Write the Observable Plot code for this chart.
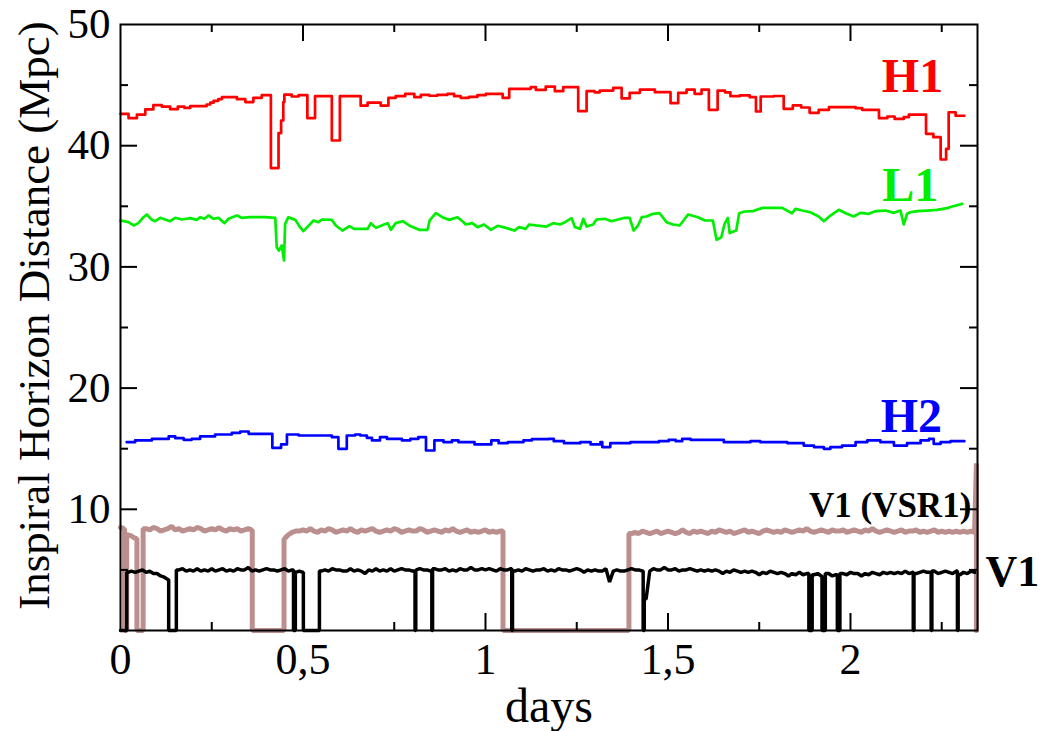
<!DOCTYPE html>
<html><head><meta charset="utf-8">
<script src="https://cdn.jsdelivr.net/npm/d3@7"></script>
<script src="https://cdn.jsdelivr.net/npm/@observablehq/plot@0.6"></script>
<style>body{margin:0;background:#fff}</style>
</head><body><div id="chart"></div>
<script>
// H1 (step-after): [day, Mpc]
const h1 = [[0.000,42.63],[0.022,42.27],[0.045,42.57],[0.068,42.99],[0.090,43.34],[0.113,43.23],[0.136,43.01],[0.157,43.23],[0.175,43.12],[0.191,43.26],
[0.236,43.40],[0.246,43.55],[0.255,43.70],[0.268,43.85],[0.278,44.00],[0.319,43.84],[0.342,43.60],[0.364,43.95],[0.387,44.17],[0.412,38.15],
[0.433,41.03],[0.440,42.08],[0.446,43.60],[0.449,44.22],[0.469,44.06],[0.488,44.17],[0.512,42.27],[0.533,44.09],[0.579,40.43],[0.601,44.09],
[0.658,43.30],[0.677,43.56],[0.713,43.30],[0.734,43.95],[0.754,44.09],[0.780,44.28],[0.805,44.00],[0.823,44.20],[0.846,44.12],[0.868,44.20],
[0.896,44.28],[0.914,44.09],[0.932,43.95],[0.955,44.03],[0.978,44.17],[1.001,44.28],[1.047,43.95],[1.065,44.69],[1.124,44.83],[1.138,44.60],
[1.165,44.88],[1.190,44.50],[1.213,44.83],[1.254,42.85],[1.277,44.50],[1.299,44.40],[1.313,44.55],[1.350,44.77],[1.373,43.90],[1.395,44.36],
[1.423,44.63],[1.464,44.42],[1.507,43.51],[1.528,44.36],[1.551,44.63],[1.573,44.28],[1.592,44.63],[1.612,42.96],[1.636,44.55],[1.656,44.40],
[1.671,44.09],[1.697,44.15],[1.724,44.00],[1.741,42.82],[1.754,44.06],[1.790,44.10],[1.817,43.04],[1.842,43.32],[1.865,43.15],[1.888,42.71],
[1.913,42.96],[1.941,43.18],[2.014,43.10],[2.032,42.96],[2.078,42.27],[2.101,42.41],[2.121,42.21],[2.146,42.35],[2.160,42.57],[2.207,40.98],
[2.227,40.70],[2.247,38.86],[2.262,39.74],[2.269,42.76],[2.288,42.47],[2.312,42.47]];

// L1: [day, Mpc]
const l1 = [[0.000,33.83],[0.022,33.69],[0.036,33.42],[0.049,33.61],[0.063,34.10],[0.072,34.32],[0.086,33.88],[0.095,33.77],[0.109,34.05],[0.122,33.91],
[0.136,33.77],[0.150,34.05],[0.168,33.91],[0.191,34.02],[0.209,33.88],[0.218,34.10],[0.230,33.97],[0.241,34.24],[0.255,33.97],[0.268,34.05],
[0.285,33.61],[0.296,33.97],[0.319,34.24],[0.332,34.05],[0.355,34.10],[0.396,34.10],[0.424,34.05],[0.428,31.63],[0.434,31.35],[0.442,31.77],
[0.448,30.53],[0.451,33.55],[0.460,34.10],[0.479,33.88],[0.492,33.28],[0.501,32.95],[0.520,33.55],[0.529,33.83],[0.542,33.69],[0.552,33.91],
[0.579,33.88],[0.590,33.42],[0.608,33.00],[0.627,33.36],[0.640,33.14],[0.677,33.14],[0.686,33.61],[0.700,33.22],[0.722,33.50],[0.732,33.61],
[0.741,33.06],[0.754,33.61],[0.773,33.77],[0.791,33.42],[0.818,33.06],[0.841,33.06],[0.847,33.83],[0.864,34.43],[0.882,34.10],[0.901,33.88],
[0.923,34.10],[0.937,33.77],[0.946,33.50],[0.964,33.61],[0.978,33.28],[0.996,33.50],[1.015,33.06],[1.033,33.39],[1.056,33.22],[1.079,33.00],
[1.092,33.28],[1.110,33.14],[1.120,33.50],[1.138,33.42],[1.167,33.33],[1.186,33.61],[1.204,33.50],[1.218,33.69],[1.236,34.02],[1.245,33.28],
[1.259,33.14],[1.268,33.97],[1.277,33.33],[1.295,33.50],[1.304,33.91],[1.327,33.97],[1.345,33.77],[1.382,34.05],[1.395,34.05],[1.406,33.00],
[1.418,33.42],[1.428,34.10],[1.441,34.16],[1.459,34.38],[1.477,34.43],[1.496,33.69],[1.514,33.50],[1.532,33.42],[1.555,34.32],[1.582,34.10],
[1.601,33.83],[1.623,33.83],[1.633,32.23],[1.646,32.45],[1.655,33.55],[1.664,34.05],[1.669,32.79],[1.687,33.00],[1.695,34.43],[1.710,34.57],
[1.733,34.60],[1.751,34.79],[1.760,34.87],[1.813,34.87],[1.826,34.65],[1.840,34.43],[1.849,34.79],[1.868,34.65],[1.890,34.51],[1.913,34.16],
[1.927,33.77],[1.945,34.24],[1.968,34.71],[1.990,34.38],[2.009,34.16],[2.027,34.46],[2.050,34.38],[2.068,34.60],[2.096,34.65],[2.119,34.46],
[2.137,34.65],[2.146,33.50],[2.155,34.38],[2.164,34.51],[2.183,34.60],[2.210,34.65],[2.237,34.71],[2.265,34.85],[2.279,34.98],[2.306,35.20]];

// H2 (step-after): [day, Mpc]
const h2 = [[0.017,15.54],[0.040,15.68],[0.086,15.81],[0.132,16.01],[0.150,15.87],[0.173,15.73],[0.195,15.81],[0.218,16.01],[0.259,16.17],[0.305,16.31],
[0.328,16.42],[0.351,16.23],[0.416,15.07],[0.440,15.35],[0.456,16.17],[0.488,16.09],[0.579,15.95],[0.597,14.99],[0.620,16.09],[0.643,16.17],
[0.657,16.09],[0.675,15.90],[0.689,15.68],[0.711,15.95],[0.730,15.81],[0.771,15.68],[0.794,15.81],[0.816,15.95],[0.837,14.85],[0.860,15.68],
[0.885,15.54],[0.908,15.68],[0.926,15.54],[0.970,15.35],[1.016,15.68],[1.036,15.46],[1.061,15.54],[1.104,15.68],[1.127,15.79],[1.173,15.81],
[1.187,15.62],[1.215,15.46],[1.260,15.54],[1.288,15.35],[1.315,15.54],[1.320,15.13],[1.342,15.46],[1.397,15.54],[1.475,15.62],[1.502,15.73],
[1.521,15.62],[1.539,15.81],[1.562,15.73],[1.653,15.54],[1.726,15.62],[1.753,15.54],[1.827,15.46],[1.872,15.26],[1.900,15.13],[1.927,14.99],
[1.945,15.13],[1.977,15.26],[2.014,15.54],[2.046,15.68],[2.082,15.54],[2.100,15.54],[2.119,15.26],[2.155,15.46],[2.192,15.68],[2.215,15.81],
[2.228,15.40],[2.247,15.54],[2.274,15.62],[2.312,15.62]];

// Virgo traces, sampled every 0.01 day from day 0 (values in Mpc)
const vStart = 0, vStep = 0.01;
const vsr1Mpc = [8.5,8.4,7.9,7.8,7.6,0,0,
8.4,8.3,8.5,8.4,8.2,8.3,8.4,8.6,8.3,8.4,8.2,8.3,8.4,8.3,8.5,8.4,8.2,8.3,8.4,8.3,8.5,8.3,8.2,8.4,8.3,8.4,8.2,8.3,8.4,8.3,
0,0,0,0,0,0,0,0,
7.6,7.9,8.1,8.2,
8.2,8.3,8.2,8.4,8.2,8.1,8.3,8.2,8.4,8.3,8.1,8.2,8.3,8.2,8.4,8.2,8.1,8.3,8.2,8.3,8.4,8.2,8.1,8.2,8.3,8.2,8.4,8.3,8.1,8.2,
8.3,8.2,8.2,8.4,8.3,8.1,8.2,8.3,8.2,8.1,8.3,8.2,8.4,8.2,8.1,8.2,8.3,8.1,8.2,8.1,8.2,8.3,8.1,8.2,8.1,8.2,
0,0,0,0,0,0,0,0,0,0,0,0,0,0,0,0,0,0,0,0,0,0,0,0,0,0,0,0,0,0,0,0,0,0,0,
8.0,8.1,8.0,8.2,8.1,8.0,8.1,8.2,8.0,8.1,8.2,8.1,8.0,8.1,8.3,8.1,8.0,8.2,8.1,8.2,
8.1,8.0,8.2,8.1,8.3,8.2,8.1,8.2,8.0,8.1,8.2,8.3,8.1,8.2,8.1,8.0,8.2,8.3,8.2,8.1,
8.2,8.1,8.3,8.2,8.1,8.2,8.3,8.2,8.4,8.2,8.1,8.2,8.3,8.2,8.1,8.3,8.2,8.2,8.3,8.1,
8.2,8.3,8.2,8.1,8.3,8.2,8.4,8.2,8.1,8.2,8.3,8.2,8.1,8.2,8.3,8.1,8.2,8.2,8.3,8.1,
8.2,8.1,8.2,8.3,8.1,8.2,8.1,8.2,8.1,8.2,8.1,8.2,8.1,8.2,8.1];
const vsr1Gaps = [[0.011,0.017],[0.045,0.062],[0.361,0.448],[1.048,1.393]];
const vsr1End = [[2.345,13.8],[2.345,0]];

const v1Mpc = [0,0,4.8,4.9,4.8,4.9,5.0,4.8,4.9,4.7,
4.7,4.5,4.4,4.2,0,0,5.0,5.1,4.9,5.0,
4.9,5.1,4.9,5.0,4.9,5.1,4.9,5.0,5.1,4.9,
5.0,4.9,5.1,5.0,5.0,5.2,4.9,5.0,4.9,5.0,
5.1,5.0,5.0,4.9,5.0,5.1,4.9,5.0,4.8,4.9,
4.8,0,0,0,0,4.9,5.0,4.9,5.1,5.0,
5.0,4.9,4.9,5.1,4.9,5.0,4.9,4.7,5.0,4.9,
5.1,4.9,5.0,4.9,5.1,4.9,5.0,5.1,5.0,5.0,
4.9,5.0,5.1,5.0,5.0,4.9,5.1,5.0,5.0,5.1,
4.9,5.0,4.9,5.1,5.0,5.0,5.2,5.0,5.0,5.1,
5.0,5.1,5.0,4.9,5.1,5.0,5.0,5.1,4.9,5.0,
4.9,5.1,5.0,4.9,5.0,5.0,5.1,4.9,5.0,4.9,
5.1,5.0,5.0,4.9,5.0,5.1,5.0,4.8,5.0,4.9,
5.0,4.9,4.9,5.1,4.0,4.9,5.0,4.9,4.9,5.0,
5.1,5.0,5.0,4.9,2.6,4.9,5.1,5.0,5.0,5.2,
5.0,5.0,5.1,4.9,5.0,5.0,5.1,5.0,4.9,5.0,
4.9,5.0,4.9,5.0,4.9,4.7,4.9,4.8,5.0,4.9,
4.8,4.9,4.8,4.9,4.8,4.6,4.8,4.7,4.9,4.8,
4.7,4.8,4.7,4.5,4.7,4.6,4.8,4.6,4.7,0,
4.6,4.7,4.5,0,4.7,4.5,4.6,0,4.7,4.6,
4.8,4.7,4.7,4.5,4.7,4.6,4.8,4.7,4.6,4.8,
4.7,4.8,4.7,4.8,4.7,4.9,4.7,4.8,4.7,4.8,
4.9,4.8,4.8,4.9,4.7,4.8,4.9,4.8,4.7,4.9,
4.6,4.8,4.7,4.9,4.8];
const v1Gaps = [[0,0.017],[0.132,0.153],[0.474,0.479],[0.501,0.545],[0.807,0.809],[0.853,0.855],[1.072,1.074],[1.432,1.435],
[1.886,1.895],[1.922,1.931],[1.964,1.971],[2.172,2.174],[2.221,2.223],[2.293,2.295]];

const yMajor = [10,20,30,40], yMinor = [5,15,25,35,45];
const xMajor = [0.5,1,1.5,2], xMinor = [0.25,0.75,1.25,1.75,2.25];
const xLabels = [0,0.5,1,1.5,2], yLabels = [10,20,30,40,50];

function toRows(pairs){ return pairs.map(([d,v]) => ({d, v})); }
function withGaps(start, step, values, gaps){
  const pts = values.map((v,i) => ({d: start + i*step, v, o: 0}))
    .filter(p => !gaps.some(([a,b]) => p.d >= a && p.d <= b));
  for (const [a,b] of gaps){
    const before = pts.filter(p => p.o === 0 && p.d < a).pop();
    const after = pts.find(p => p.o === 0 && p.d > b);
    pts.push({d:a, v: before ? before.v : 0, o:1}, {d:a, v:0, o:2}, {d:b, v:0, o:3}, {d:b, v: after ? after.v : 0, o:4});
  }
  pts.sort((p,q) => p.d - q.d || p.o - q.o);
  return pts;
}
const vsr1Rows = withGaps(vStart, vStep, vsr1Mpc, vsr1Gaps).concat(toRows(vsr1End));
const v1Rows = withGaps(vStart, vStep, v1Mpc, v1Gaps);

const serif = "'Liberation Serif','Times New Roman',serif";
const W = 857, H = 606;

const chart = Plot.plot({
  width: 1041, height: 731,
  marginTop: 24, marginBottom: 101, marginLeft: 120, marginRight: 64,
  x: {domain: [0, 2.348]},
  y: {domain: [0, 50]},
  style: {fontFamily: serif, background: "white", color: "black"},
  marks: [
    Plot.line(vsr1Rows, {x: "d", y: "v", stroke: "#bc8f8f", strokeWidth: 5, strokeLinejoin: "miter"}),
    Plot.line(v1Rows, {x: "d", y: "v", stroke: "black", strokeWidth: 3.5, strokeLinejoin: "miter"}),
    Plot.line(toRows(h2), {x: "d", y: "v", curve: "step-after", stroke: "#0000ff", strokeWidth: 2.7}),
    Plot.line(toRows(l1), {x: "d", y: "v", stroke: "#00ee00", strokeWidth: 2.7}),
    Plot.line(toRows(h1), {x: "d", y: "v", curve: "step-after", stroke: "#ff0000", strokeWidth: 2.7}),
    Plot.frame({stroke: "black", strokeWidth: 2}),
    Plot.tickX(xMajor, {insetTop: H - 17, stroke: "black", strokeWidth: 2}),
    Plot.tickX(xMajor, {insetBottom: H - 17, stroke: "black", strokeWidth: 2}),
    Plot.tickX(xMinor, {insetTop: H - 8, stroke: "black", strokeWidth: 2}),
    Plot.tickX(xMinor, {insetBottom: H - 8, stroke: "black", strokeWidth: 2}),
    Plot.tickY(yMajor, {insetRight: W - 17, stroke: "black", strokeWidth: 2}),
    Plot.tickY(yMajor, {insetLeft: W - 17, stroke: "black", strokeWidth: 2}),
    Plot.tickY(yMinor, {insetRight: W - 8, stroke: "black", strokeWidth: 2}),
    Plot.tickY(yMinor, {insetLeft: W - 8, stroke: "black", strokeWidth: 2}),
    Plot.axisX({ticks: xLabels, tickSize: 0, tickPadding: 12, tickFormat: d => String(d).replace(".", ","), fontSize: 44, label: null}),
    Plot.axisY({ticks: yLabels, tickSize: 0, tickPadding: 10, fontSize: 43, label: null}),
    Plot.text(["days"], {frameAnchor: "bottom", lineAnchor: "middle", textAnchor: "middle", dy: 76, fontSize: 48, fill: "black"}),
    Plot.text(["Inspiral Horizon Distance (Mpc)"], {frameAnchor: "left", lineAnchor: "middle", textAnchor: "middle", rotate: -90, dx: -86, dy: -12, fontSize: 45, fill: "black"}),
    Plot.text(["H1"], {x: () => 2.170, y: () => 45.71, fill: "#ff0000", fontWeight: "bold", fontSize: 48}),
    Plot.text(["L1"], {x: () => 2.164, y: () => 36.72, fill: "#00ee00", fontWeight: "bold", fontSize: 48}),
    Plot.text(["H2"], {x: () => 2.167, y: () => 17.66, fill: "#0000ff", fontWeight: "bold", fontSize: 48}),
    Plot.text(["V1 (VSR1)"], {x: () => 2.331, y: () => 10.31, textAnchor: "end", fill: "black", fontWeight: "bold", fontSize: 35}),
    Plot.text(["V1"], {x: () => 2.370, y: () => 4.87, textAnchor: "start", fill: "black", fontWeight: "bold", fontSize: 44})
  ]
});
document.getElementById("chart").append(chart);
</script>
</body></html>
